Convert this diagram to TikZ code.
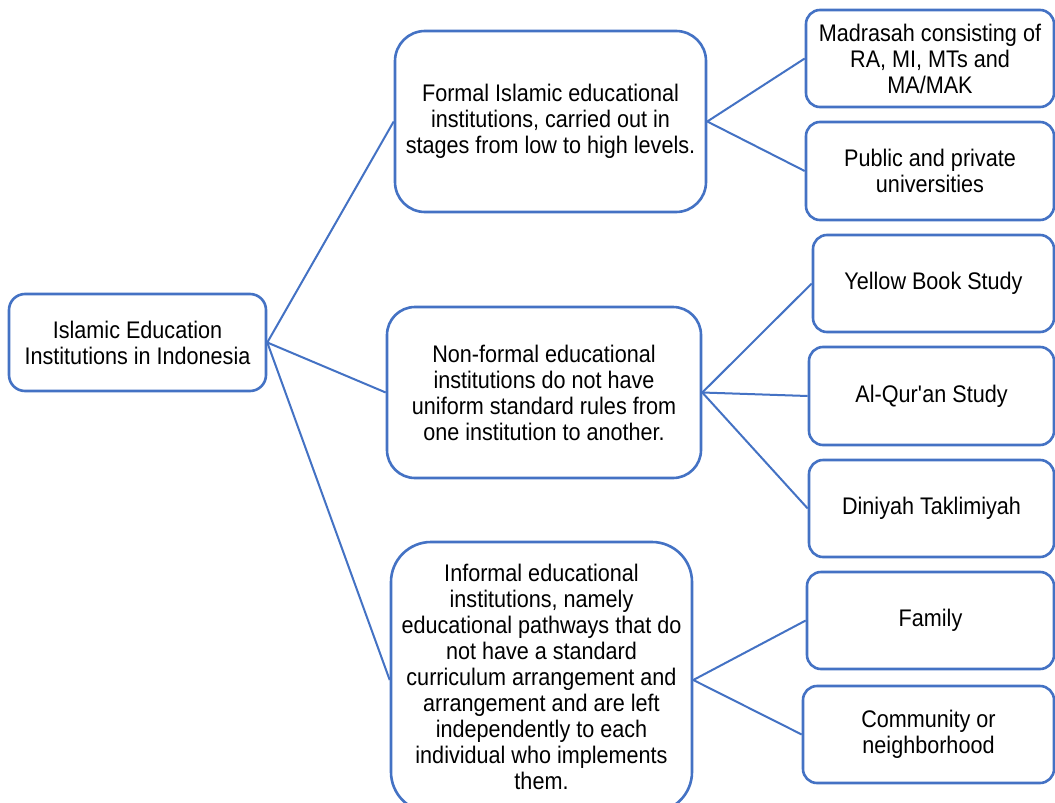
\documentclass[tikz,border=0pt]{standalone}
\usepackage{fontspec}
\setmainfont{Liberation Sans}[FakeStretch=0.9]
\definecolor{boxblue}{HTML}{4472C4}
\begin{document}
\begin{tikzpicture}[x=1pt,y=-1pt,
  box/.style={draw=boxblue,line width=2.6pt,fill=white,inner sep=0pt,align=center,
    font=\fontsize{24}{26}\selectfont,text=black},
  small/.style={box,rounded corners=14pt,minimum height=97pt},
  link/.style={draw=boxblue,line width=2pt}]
\useasboundingbox (0,0) rectangle (1055,803);
\clip (0,0) rectangle (1055,803);
\fill[white] (0,0) rectangle (1055,803);
% nodes
\node[box,rounded corners=16pt,minimum width=257pt,minimum height=97pt] (root) at (137.5,342.5)
  {Islamic Education\\Institutions in Indonesia};
\node[box,rounded corners=30pt,minimum width=311pt,minimum height=181pt] (formal) at (550.5,121.5)
  {Formal Islamic educational\\institutions, carried out in\\stages from low to high levels.};
\node[box,rounded corners=28pt,minimum width=314pt,minimum height=171pt] (nonformal) at (544,392.5)
  {Non-formal educational\\institutions do not have\\uniform standard rules from\\one institution to another.};
\node[box,rounded corners=40pt,minimum width=301pt,minimum height=270pt] (informal) at (541.5,677)
  {Informal educational\\institutions, namely\\educational pathways that do\\not have a standard\\curriculum arrangement and\\arrangement and are left\\independently to each\\individual who implements\\them.};
\node[small,minimum width=248pt] (madrasah) at (930,58.5)
  {Madrasah consisting of\\RA, MI, MTs and\\MA/MAK};
\node[small,minimum width=248pt,minimum height=98pt] (public) at (930,171)
  {Public and private\\universities};
\node[small,minimum width=241pt] (yellow) at (933.5,283.5) {Yellow Book Study};
\node[small,minimum width=245pt,minimum height=98pt] (quran) at (931.5,396) {Al-Qur\textquotesingle an Study};
\node[small,minimum width=245pt] (diniyah) at (931.5,508.5) {Diniyah Taklimiyah};
\node[small,minimum width=247pt] (family) at (930.5,620.5) {Family};
\node[small,minimum width=251pt] (community) at (928.5,734.5) {Community or\\neighborhood};
% connectors
\draw[link] (root.east) -- (formal.west);
\draw[link] (root.east) -- (nonformal.west);
\draw[link] (root.east) -- ([yshift=-3pt]informal.west);
\draw[link] (formal.east) -- (madrasah.west);
\draw[link] (formal.east) -- (public.west);
\draw[link] (nonformal.east) -- (yellow.west);
\draw[link] (nonformal.east) -- (quran.west);
\draw[link] (nonformal.east) -- (diniyah.west);
\draw[link] ([yshift=-3pt]informal.east) -- (family.west);
\draw[link] ([yshift=-3pt]informal.east) -- (community.west);
\end{tikzpicture}
\end{document}
